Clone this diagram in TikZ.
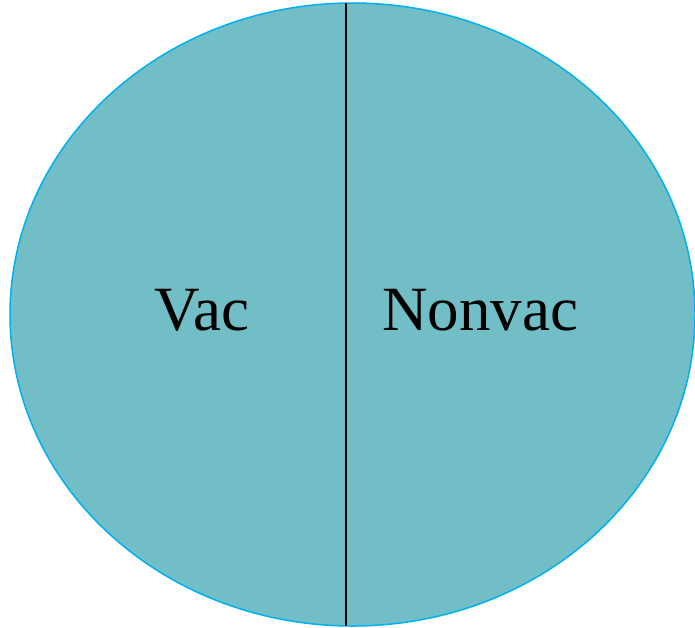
\documentclass[tikz,border=0pt]{standalone}
\usepackage{fontspec}
\setmainfont{Liberation Serif}
\usetikzlibrary{shapes.geometric}
\definecolor{pieFill}{HTML}{71BEC6}
\definecolor{pieEdge}{HTML}{00B0F0}

\begin{document}
\begin{tikzpicture}
[x=1pt,y=-1pt,
  ellDecorate/.style={shape=ellipse,draw=pieEdge,fill=pieFill,line width=1.5pt,
    minimum width=685pt,minimum height=623pt,inner sep=0pt},
  lineDecorate/.style={draw=black,line width=1.5pt},
  textDecorate/.style={font=\fontsize{63}{63}\selectfont,inner sep=0pt,anchor=base}]
\useasboundingbox (0,0) rectangle (695,627);
%% whole set
\node (set) at (352.5,314.5) [ellDecorate] {};
%% split
\coordinate (top) at (346,3);
\coordinate (bot) at (346,626);
\path[lineDecorate] (top) -- (bot);
%% labels
\node (vac) at (202,330) [textDecorate] {Vac};
\node (nonvac) at (480,330) [textDecorate] {Nonvac};
\end{tikzpicture}
\end{document}
